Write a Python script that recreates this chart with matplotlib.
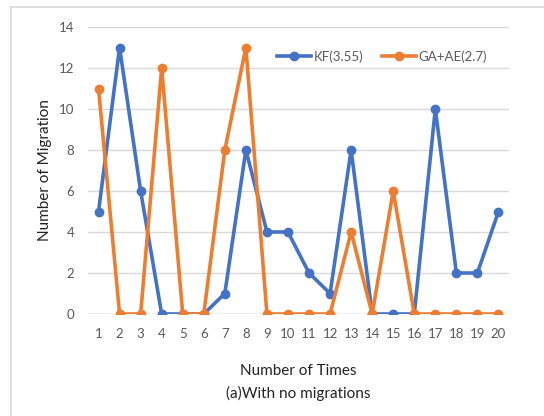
import matplotlib.pyplot as plt
from matplotlib.lines import Line2D

# Daten
times = list(range(1, 21))
kf_values = [5, 13, 6, 0, 0, 0, 1, 8, 4, 4, 2, 1, 8, 0, 0, 0, 10, 2, 2, 5]
ga_ae_values = [11, 0, 0, 12, 0, 0, 8, 13, 0, 0, 0, 0, 4, 0, 6, 0, 0, 0, 0, 0]
y_ticks = [0, 2, 4, 6, 8, 10, 12, 14]

blue = '#4472C4'
orange = '#ED7D31'
grey = '#595959'

plt.rcParams['font.family'] = ['Lato', 'DejaVu Sans']

fig = plt.figure(figsize=(5.44, 4.16), dpi=100)
ax = fig.add_axes([88 / 544, 1 - 314 / 416, 421 / 544, 287 / 416])

ax.plot(times, kf_values, color=blue, lw=2.6, marker='o', ms=6, label='KF(3.55)', zorder=3)
ax.plot(times, ga_ae_values, color=orange, lw=2.6, marker='o', ms=6, label='GA+AE(2.7)', zorder=4)

ax.set_xlim(0.5, 20.5)
ax.set_ylim(0, 14)
ax.set_yticks(y_ticks)
ax.set_xticks(times)
ax.set_xticklabels([str(t) for t in times])
ax.tick_params(axis='both', length=0, labelsize=9.5, colors=grey)
ax.tick_params(axis='x', pad=10)
ax.tick_params(axis='y', pad=10)
ax.grid(axis='y', color='#D9D9D9', lw=1)
ax.set_axisbelow(True)
for s in ax.spines.values():
    s.set_visible(False)
ax.axhline(0, color='#D9D9D9', lw=1, zorder=1)

ax.set_ylabel('Number of Migration', fontsize=11, color='#222222', labelpad=5)
fig.text(0.5 * (88 + 509) / 544, 1 - 371 / 416, 'Number of Times', fontsize=11,
         color='#222222', ha='center', va='center')
fig.text(0.5 * (88 + 509) / 544, 1 - 393 / 416, '(a)With no migrations', fontsize=11,
         color='#222222', ha='center', va='center')

ax.legend(loc='upper left', bbox_to_anchor=(0.42, 0.96), ncol=2, frameon=False,
          fontsize=9.5, labelcolor=grey, handlelength=2.6, handletextpad=0.2,
          columnspacing=1.4)

# Rahmen oben und links
fig.add_artist(Line2D([11 / 544, 11 / 544], [0, 1 - 7 / 416], transform=fig.transFigure,
                      color='#D9D9D9', lw=1.2))
fig.add_artist(Line2D([11 / 544, 1], [1 - 7 / 416, 1 - 7 / 416], transform=fig.transFigure,
                      color='#D9D9D9', lw=1.2))

fig.savefig('out.png', dpi=100)
